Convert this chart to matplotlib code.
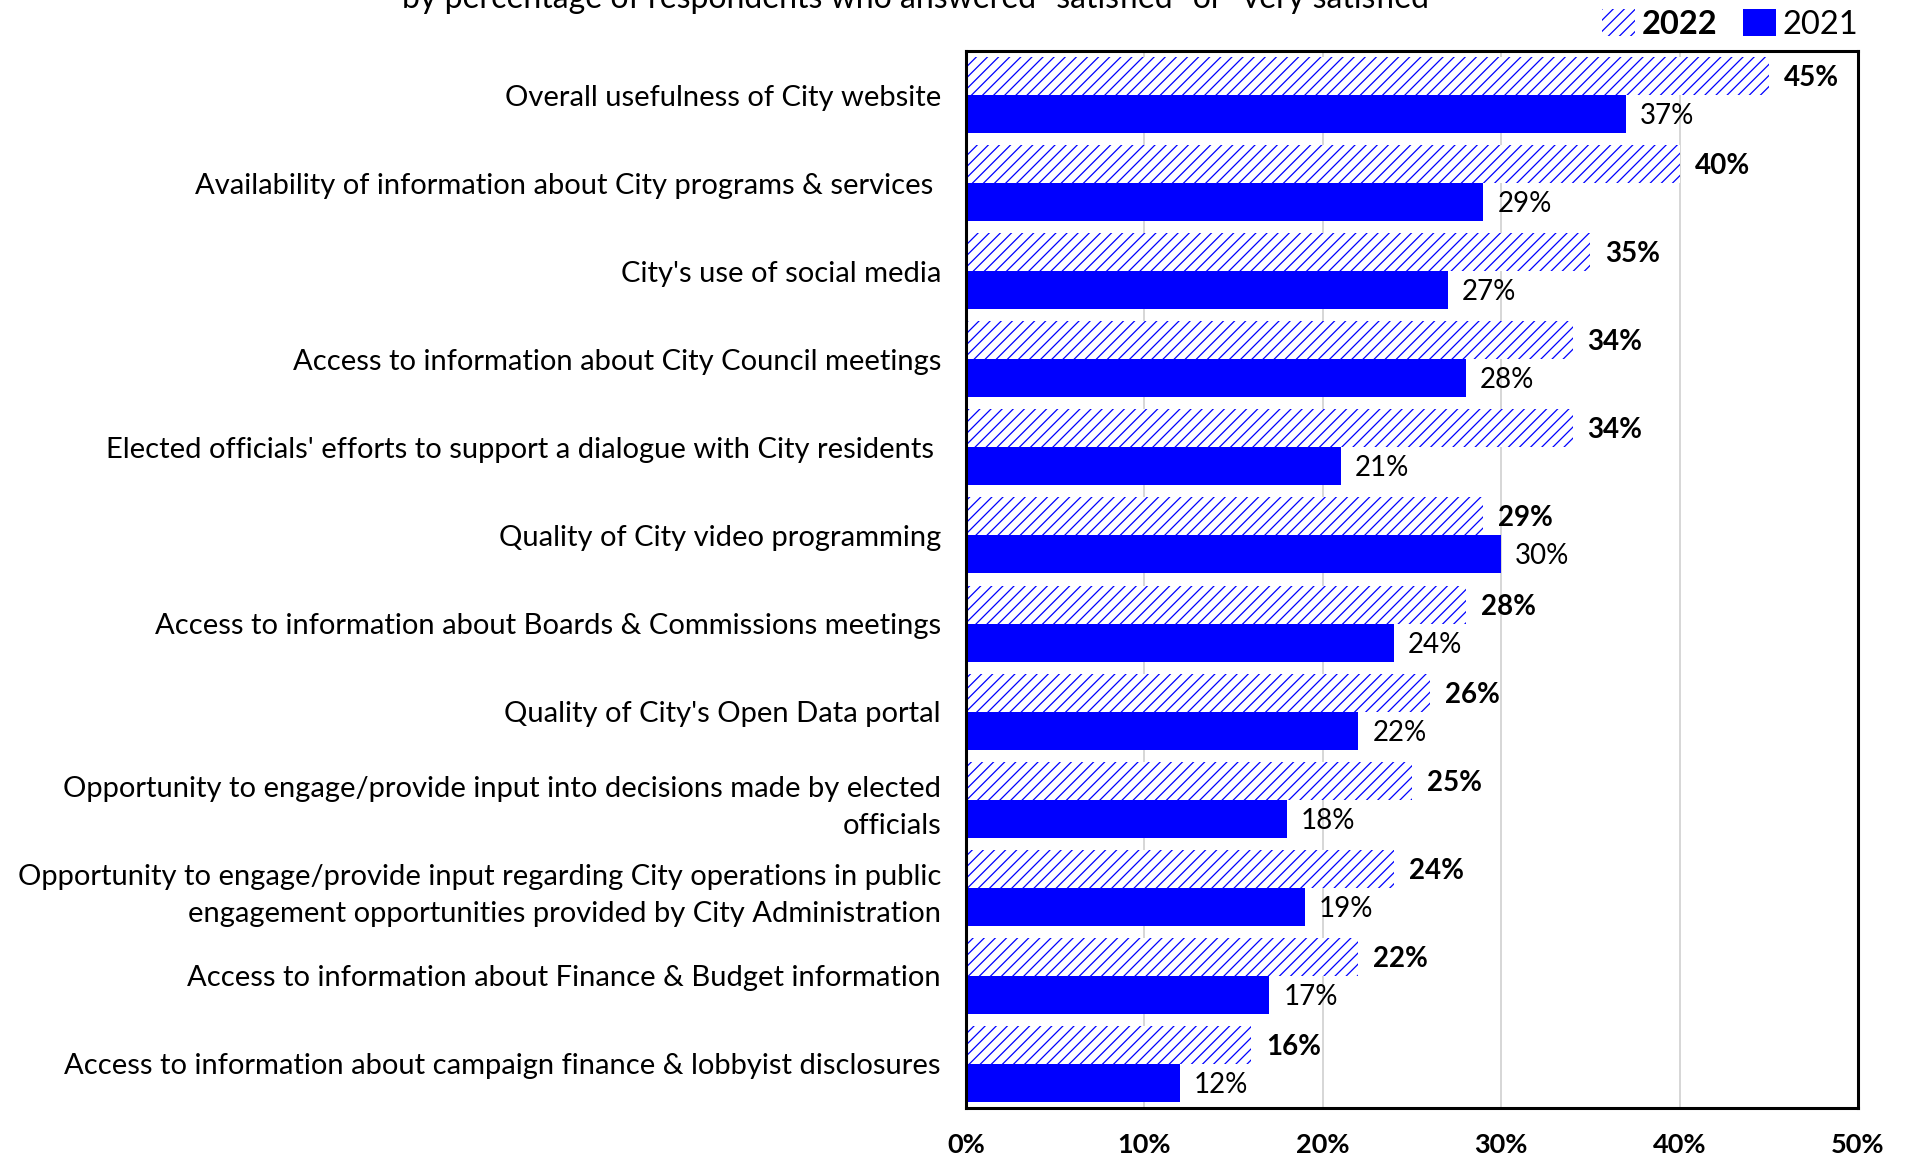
import matplotlib
matplotlib.use("Agg")
import matplotlib.pyplot as plt
from matplotlib.patches import Patch
import numpy as np

categories = [
    "Overall usefulness of City website",
    "Availability of information about City programs & services ",
    "City's use of social media",
    "Access to information about City Council meetings",
    "Elected officials' efforts to support a dialogue with City residents ",
    "Quality of City video programming",
    "Access to information about Boards & Commissions meetings",
    "Quality of City's Open Data portal",
    "Opportunity to engage/provide input into decisions made by elected\nofficials",
    "Opportunity to engage/provide input regarding City operations in public\nengagement opportunities provided by City Administration",
    "Access to information about Finance & Budget information",
    "Access to information about campaign finance & lobbyist disclosures",
]
values_2022 = [45, 40, 35, 34, 34, 29, 28, 26, 25, 24, 22, 16]
values_2021 = [37, 29, 27, 28, 21, 30, 24, 22, 18, 19, 17, 12]
xticks = [0, 10, 20, 30, 40, 50]
xtick_labels = ["0%", "10%", "20%", "30%", "40%", "50%"]
title_text = 'by percentage of respondents who answered "satisfied" or "very satisfied"'

plt.rcParams["font.family"] = ["Lato", "DejaVu Sans"]
plt.rcParams["hatch.linewidth"] = 0.9
plt.rcParams["hatch.color"] = "#0000FF"

fig = plt.figure(figsize=(19.07, 11.60), dpi=100)
ax = fig.add_axes([966 / 1907, 1 - 1108 / 1160, (1858 - 966) / 1907, (1108 - 51) / 1160])

y = np.arange(len(categories))
h = 0.431
off = h / 2
ax.barh(y - off, values_2022, height=h, color="white", edgecolor="#0000FF",
        hatch="///", linewidth=0, zorder=2)
ax.barh(y + off, values_2021, height=h, color="#0000FF", linewidth=0, zorder=2)

for yi, v in zip(y, values_2022):
    ax.annotate(f"{v}%", (v, yi - off), xytext=(15, -2), textcoords="offset pixels",
                ha="left", va="center", fontsize=20, fontweight="bold")
for yi, v in zip(y, values_2021):
    ax.annotate(f"{v}%", (v, yi + off), xytext=(14, -2), textcoords="offset pixels",
                ha="left", va="center", fontsize=20)

ax.set_xlim(0, 50)
ax.set_ylim(len(categories) - 0.5, -0.5)
ax.set_xticks(xticks)
ax.set_xticklabels(xtick_labels, fontsize=19.5, fontweight="bold")
ax.set_yticks(y)
ax.set_yticklabels(categories, fontsize=21, linespacing=1.5)
ax.tick_params(axis="x", length=0, pad=18)
ax.tick_params(axis="y", length=0, pad=18)
ax.grid(axis="x", color="#D0D0D0", linewidth=1.2, zorder=0)
ax.set_axisbelow(True)
for s in ax.spines.values():
    s.set_linewidth(2.2)
    s.set_color("black")

fig.text(0.483, 1 - 8 / 1160, title_text, ha="center", va="baseline", fontsize=23)

handles = [Patch(facecolor="white", edgecolor="#0000FF", hatch="///", linewidth=0),
           Patch(facecolor="#0000FF", linewidth=0)]
leg = fig.legend(handles, ["2022", "2021"], ncol=2, loc="upper right",
                 bbox_to_anchor=(1871 / 1907, 1 + 4 / 1160), frameon=False,
                 fontsize=23.5, handlelength=1.0, handleheight=0.9,
                 handletextpad=0.2, columnspacing=0.8, borderaxespad=0)
leg.get_texts()[0].set_fontweight("bold")

fig.savefig("out.png", dpi=100)
